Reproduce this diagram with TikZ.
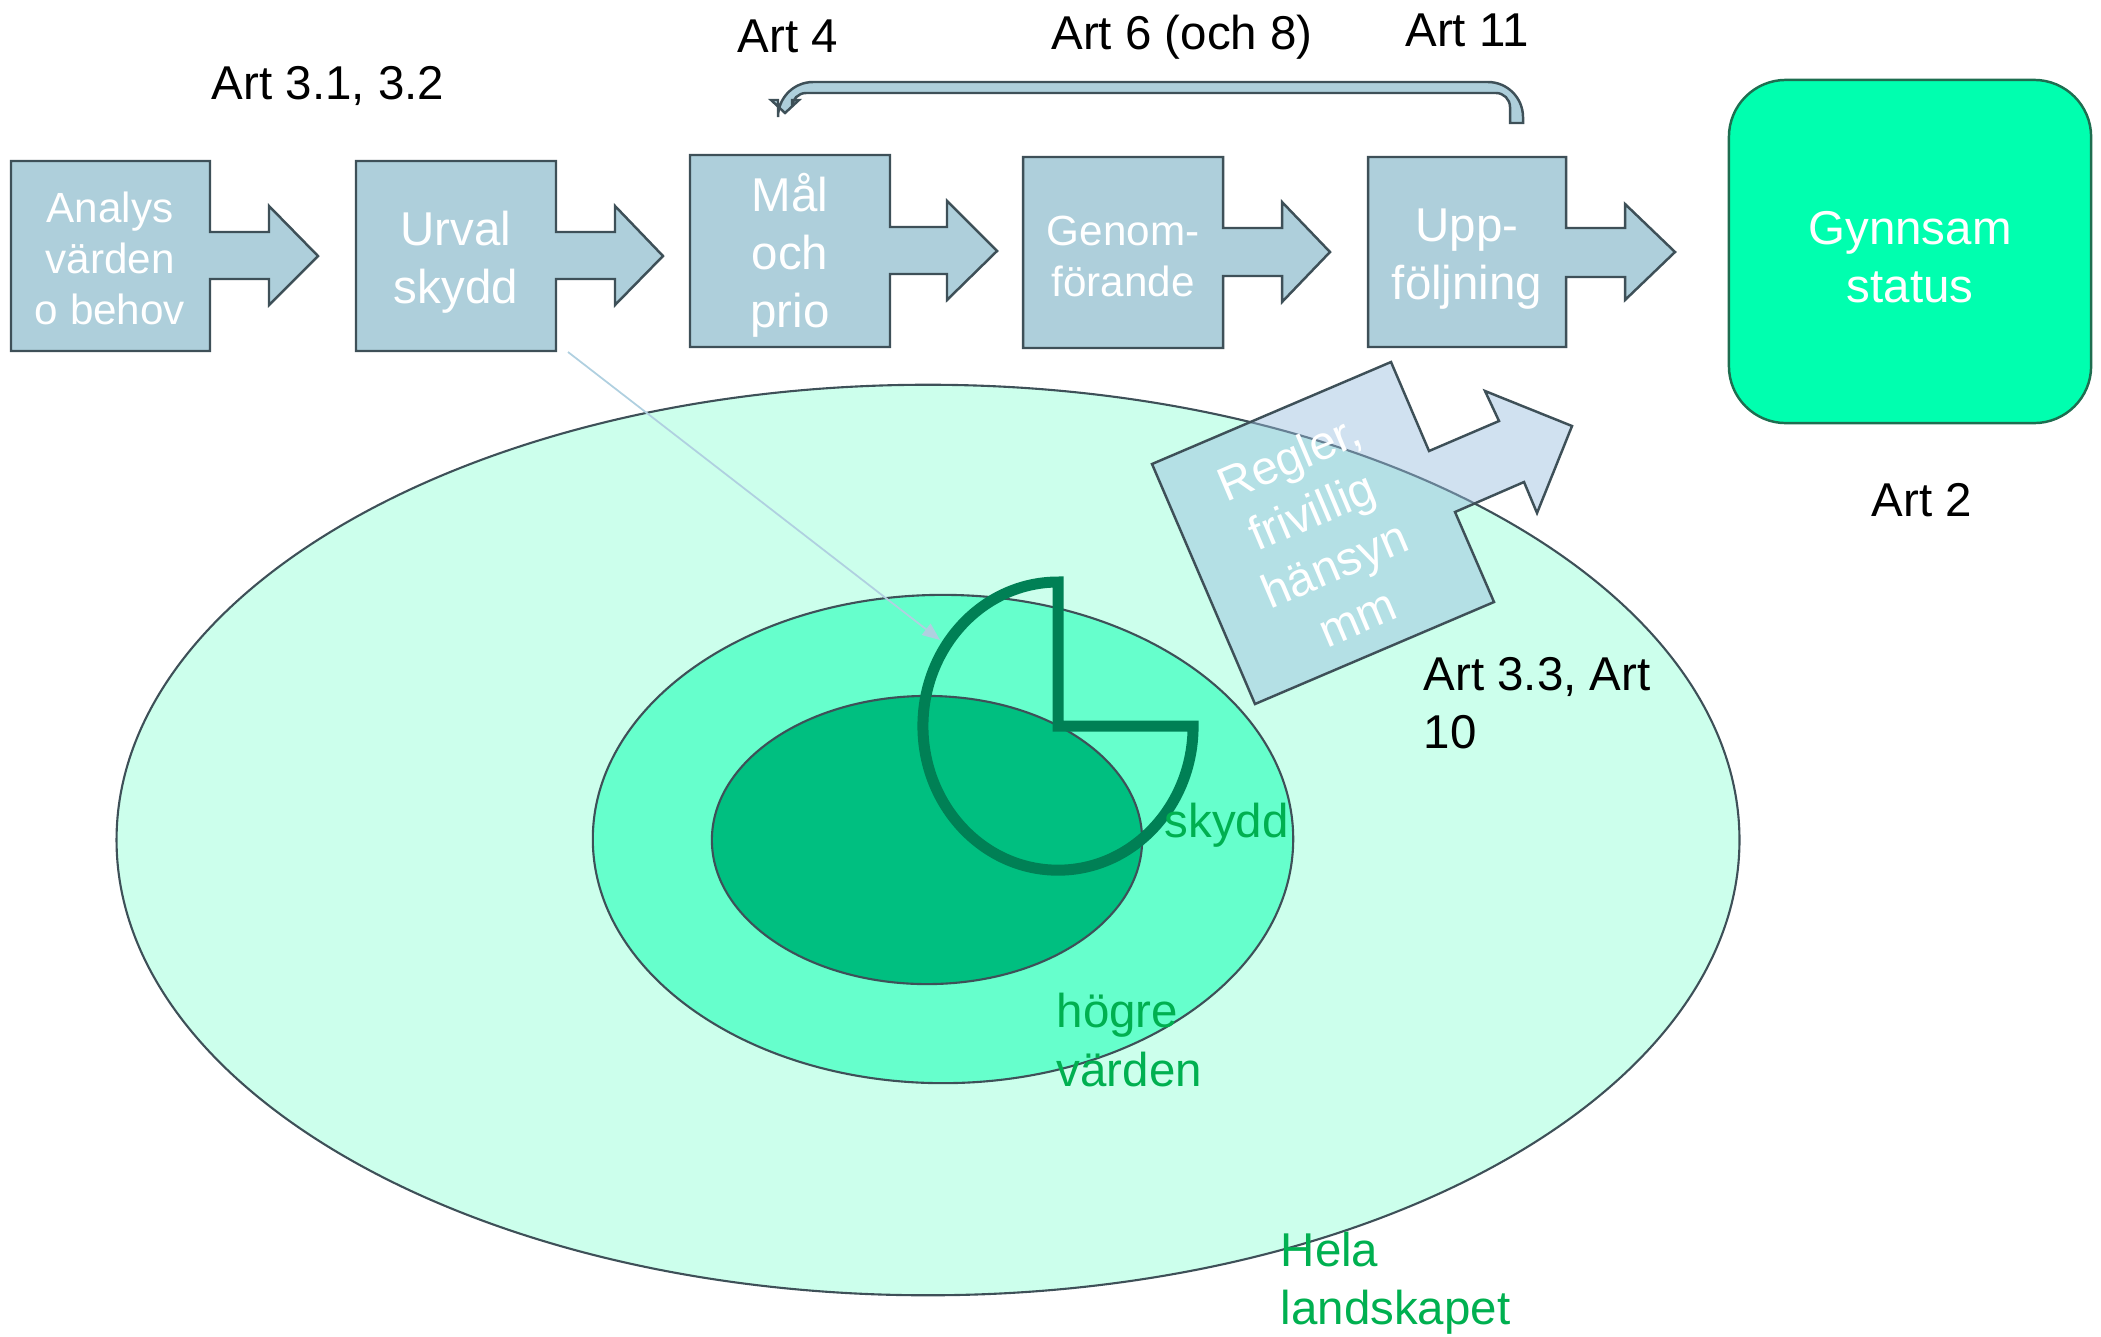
\documentclass[tikz,border=0pt]{standalone}
\usepackage{fontspec}
\setmainfont{Liberation Sans}
\usetikzlibrary{arrows.meta}
\definecolor{boxfill}{RGB}{174,207,219}
\definecolor{boxline}{RGB}{62,80,88}
\definecolor{outerfill}{RGB}{204,255,236}
\definecolor{midfill}{RGB}{102,255,204}
\definecolor{innerfill}{RGB}{0,191,128}
\definecolor{piegreen}{RGB}{0,128,85}
\definecolor{greentext}{RGB}{0,176,80}
\definecolor{gynfill}{RGB}{0,255,175}
\definecolor{gynline}{RGB}{30,110,80}
\definecolor{reglerfill}{RGB}{151,188,221}
\definecolor{thinline}{RGB}{176,208,224}
\begin{document}
\begin{tikzpicture}[x=0.01cm,y=-0.01cm,
  procbox/.style={draw=boxline, fill=boxfill, line width=0.7pt, line join=miter},
  boxtext/.style={text=white, align=center, inner sep=0, font=\fontsize{13.5}{16.5}\selectfont},
  boxtextsm/.style={boxtext, font=\fontsize{12}{14.5}\selectfont},
  artlabel/.style={text=black, inner sep=0, font=\fontsize{13.5}{16.5}\selectfont},
  greenlabel/.style={text=greentext, align=left, anchor=west, inner sep=0, font=\fontsize{13.5}{16.5}\selectfont},
  ellipseline/.style={draw=boxline, line width=0.6pt}]
\useasboundingbox (0,0) rectangle (2101,1336);

% landscape ellipses
\draw[ellipseline, fill=outerfill] (928,840) ellipse [x radius=8.11cm, y radius=4.55cm];
\draw[ellipseline, fill=midfill] (943,839) ellipse [x radius=3.50cm, y radius=2.44cm];
\draw[ellipseline, fill=innerfill] (927,840) ellipse [x radius=2.15cm, y radius=1.44cm];

% pie shape
\coordinate (pc) at (1058,726);
\draw[piegreen, line width=0.11cm, line join=miter] (pc) -- ++(0,-144)
  arc[start angle=90, end angle=360, x radius=1.35cm, y radius=1.44cm] -- cycle;

% green labels
\node[greenlabel] (skydd) at (1164,825) {skydd};
\node[greenlabel] (hogre) at (1056,1040) {högre\\värden};
\node[greenlabel] (hela) at (1280,1283) {Hela\\landskapet};

% thin line from Urval
\coordinate (ustart) at (568,352);
\coordinate (uend) at (940,640);
\draw[thinline, line width=0.5pt, -{Triangle[length=5pt, width=4pt]}] (ustart) -- (uend);

% process boxes with arrows
\draw[procbox] (11,161) -- (210,161) -- (210,232) -- (269,232) -- (269,206) -- (318,256) -- (269,305) -- (269,279) -- (210,279) -- (210,351) -- (11,351) -- cycle;
\draw[procbox] (356,161) -- (556,161) -- (556,232) -- (615,232) -- (615,206) -- (663,256) -- (615,305) -- (615,279) -- (556,279) -- (556,351) -- (356,351) -- cycle;
\draw[procbox] (690,155) -- (890,155) -- (890,227) -- (947,227) -- (947,201) -- (997,251) -- (947,300) -- (947,274) -- (890,274) -- (890,347) -- (690,347) -- cycle;
\draw[procbox] (1023,157) -- (1223,157) -- (1223,228) -- (1282,228) -- (1282,202) -- (1330,252) -- (1282,302) -- (1282,276) -- (1223,276) -- (1223,348) -- (1023,348) -- cycle;
\draw[procbox] (1368,157) -- (1566,157) -- (1566,228) -- (1625,228) -- (1625,204) -- (1675,252) -- (1625,300) -- (1625,277) -- (1566,277) -- (1566,347) -- (1368,347) -- cycle;

\node[boxtextsm] (analys) at (110,258) {Analys\\värden\\o behov};
\node[boxtext] (urval) at (456,262) {Urval\\skydd};
\node[boxtext] (mal) at (790,255) {Mål\\och\\prio};
\node[boxtextsm] (genom) at (1123,256) {Genom-\\förande};
\node[boxtext] (uppf) at (1467,259) {Upp-\\följning};

% feedback arrow
\draw[procbox] (1523,123) [rounded corners=10] -- (1523,82) -- (778,82) [sharp corners] -- (778,100) -- (771,100) -- (785,113) -- (799,100) -- (792,100) [rounded corners=4] -- (792,93) -- (1510,93) [sharp corners] -- (1510,123) -- cycle;

% Gynnsam status
\node[draw=gynline, fill=gynfill, line width=0.7pt, rounded corners=0.57cm,
  minimum width=3.62cm, minimum height=3.43cm, text=white, align=center,
  font=\fontsize{13.5}{16.5}\selectfont] (gyn) at (1910,251.5) {};
\node[boxtext] (gyntext) at (1910,257) {Gynnsam\\status};

% Regler arrow
\draw[draw=boxline, line width=0.7pt, fill=reglerfill, fill opacity=0.45, line join=miter]
  (1152,464) -- (1391,362) -- (1429,451) -- (1499,421) -- (1485,391) -- (1572,426)
  -- (1537,513) -- (1524,482) -- (1455,512) -- (1494,602) -- (1255,704) -- cycle;
\node[boxtext, rotate=23] (regler) at (1323,537) {Regler,\\frivillig\\hänsyn\\mm};

% article labels
\node[artlabel] (art31) at (328,86) {Art 3.1, 3.2};
\node[artlabel] (art4) at (788,36) {Art 4};
\node[artlabel] (art6) at (1182,37) {Art 6 (och 8)};
\node[artlabel] (art11) at (1467,30) {Art 11};
\node[artlabel] (art2) at (1922,500) {Art 2};
\node[artlabel, align=left, anchor=west] (art33) at (1423,703) {Art 3.3, Art\\10};
\end{tikzpicture}
\end{document}
